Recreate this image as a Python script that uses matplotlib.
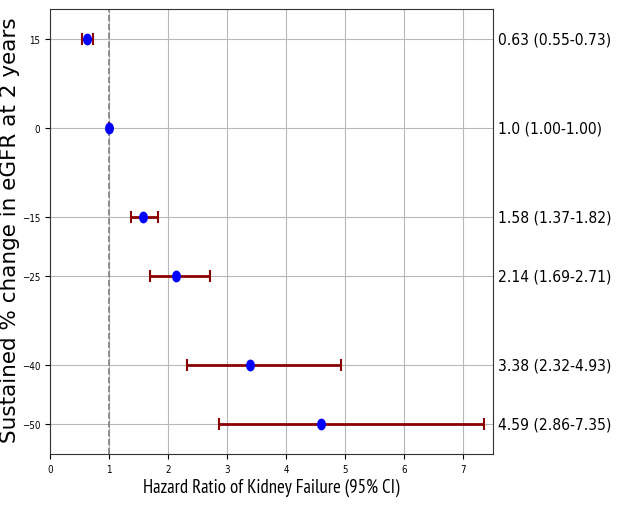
import matplotlib
matplotlib.use("Agg")
import matplotlib.pyplot as plt
import matplotlib.transforms as mtransforms
from matplotlib.path import Path
import numpy as np

# Sustained % change in eGFR and hazard ratios (95% CI)
egfr_change = [15, 0, -15, -25, -40, -50]
hazard_ratio = [0.63, 1.0, 1.58, 2.14, 3.38, 4.59]
ci_lower = [0.55, 1.00, 1.37, 1.69, 2.32, 2.86]
ci_upper = [0.73, 1.00, 1.82, 2.71, 4.93, 7.35]
labels = ["0.63 (0.55-0.73)", "1.0 (1.00-1.00)", "1.58 (1.37-1.82)",
          "2.14 (1.69-2.71)", "3.38 (2.32-4.93)", "4.59 (2.86-7.35)"]

hr = np.array(hazard_ratio)
xerr = [hr - np.array(ci_lower), np.array(ci_upper) - hr]

# slightly narrow dot, like the squeezed original
circle = Path.unit_circle()
oval = Path(circle.vertices * [0.72, 1.0], circle.codes)

fig = plt.figure(figsize=(6.18, 5.06), dpi=100)
ax = fig.add_axes([50 / 618, 51 / 506, 443 / 618, 445 / 506])

ax.errorbar(hazard_ratio, egfr_change, xerr=xerr, fmt="none",
            ecolor="darkred", elinewidth=2, capsize=4.5, capthick=1.5, zorder=3)
ax.plot(hazard_ratio, egfr_change, linestyle="none", marker=oval,
        markersize=7.5, color="blue", zorder=4)
ax.axvline(x=1, color="gray", linestyle="--", linewidth=1.2, zorder=2)

ax.set_xlim(0, 7.5)
ax.set_ylim(-55, 20)
ax.set_xticks(range(0, 8))
ax.set_yticks(egfr_change)
ax.grid(True, color="#b8b8b8", linewidth=0.8)
ax.set_axisbelow(True)
for sp in ax.spines.values():
    sp.set_color("#333333")

for lbl in ax.get_xticklabels() + ax.get_yticklabels():
    lbl.set_fontsize(7)
    lbl.set_fontstretch("condensed")

ax.set_xlabel("Hazard Ratio of Kidney Failure (95% CI)", fontsize=13.5,
              family="PT Sans Narrow")
ax.xaxis.set_label_coords(0.5, -0.054)
ax.set_ylabel("Sustained % change in eGFR at 2 years", fontsize=15.5)
ax.yaxis.set_label_coords(-0.067, 0.505)

trans = mtransforms.blended_transform_factory(ax.transAxes, ax.transData)
for y, txt in zip(egfr_change, labels):
    ax.text(1.011, y, txt, transform=trans, va="center", ha="left",
            fontsize=11.2, fontstretch="condensed", clip_on=False)

fig.savefig("out.png", dpi=100)
